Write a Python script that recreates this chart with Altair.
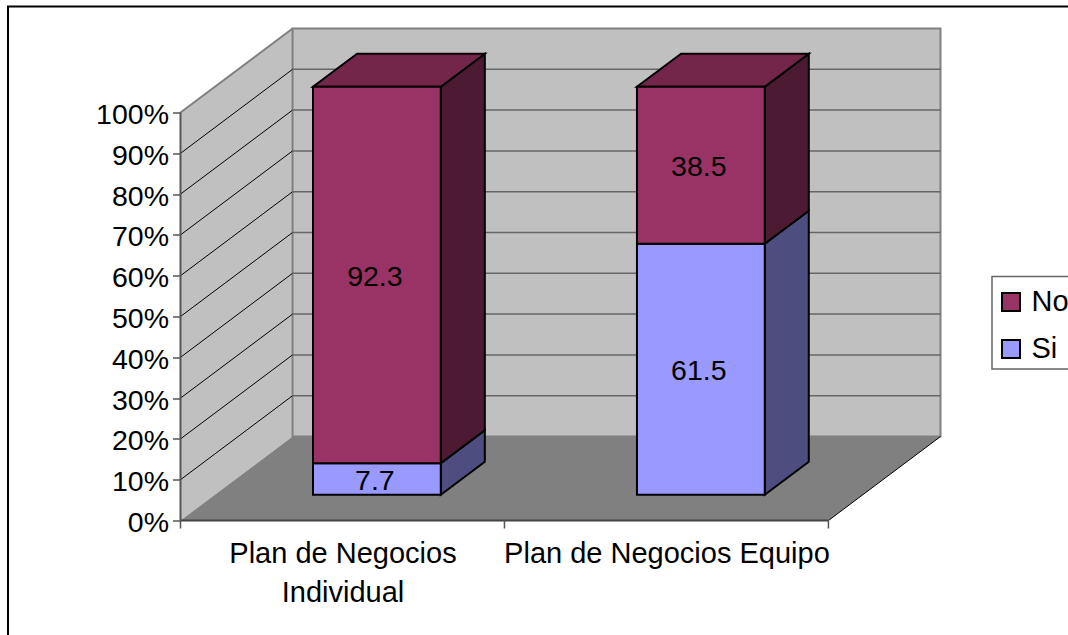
import altair as alt
import pandas as pd

# Share of answers per business-plan type
categories = ["Plan de Negocios Individual", "Plan de Negocios Equipo"]
si_values = [7.7, 61.5]
no_values = [92.3, 38.5]
percent_ticks = list(range(0, 101, 10))

FONT = "Liberation Sans"
FONT_SIZE = 28.5
CATEGORY_FONT_SIZE = 29
EDGE_WIDTH = 2
SERIES_COLORS = {"No": "#993366", "Si": "#9999FF"}
SIDE_COLORS = {"No": "#4D1A33", "Si": "#4D4D80"}
TOP_COLORS = {"No": "#732649", "Si": "#7373BF"}

# Oblique projection: one unit of depth moves a point right and up
DEPTH_X = 112 / 323.75
DEPTH_Y = 84 / 4.08
BAR_WIDTH = 127.7 / 323.75
BAR_DEPTH_NEAR = 0.307
BAR_DEPTH_FAR = 0.70

PLOT_W, PLOT_H = 760, 492
PAD_L, PAD_T = 180.5, 28.5

x_scale = alt.Scale(domain=[0, 2 + DEPTH_X], nice=False, zero=False)
y_scale = alt.Scale(domain=[0, 100 + DEPTH_Y], nice=False, zero=False)

x_axis = alt.Axis(
    values=[0.5, 1.5],
    labelExpr=f"datum.value < 1 ? ['Plan de Negocios', 'Individual'] : '{categories[1]}'",
    domain=False,
    grid=False,
    ticks=False,
    labelFont=FONT,
    labelFontSize=CATEGORY_FONT_SIZE,
    labelColor="#000000",
    labelPadding=18.5,
    labelLineHeight=39,
    labelBaseline="top",
    labelAlign="center",
    labelOverlap=False,
    labelLimit=500,
)
y_axis = alt.Axis(
    values=percent_ticks,
    labelExpr="datum.value + '%'",
    domain=False,
    grid=False,
    tickSize=8,
    tickColor="#555555",
    tickWidth=1.5,
    labelFont=FONT,
    labelFontSize=FONT_SIZE,
    labelColor="#000000",
    labelPadding=4,
    labelOffset=2,
    labelOverlap=False,
)


def X(field):
    return alt.X(field, type="quantitative", scale=x_scale, axis=x_axis, title=None)


def Y(field):
    return alt.Y(field, type="quantitative", scale=y_scale, axis=y_axis, title=None, stack=None)


# Bar faces derived from the stacked values
front, side, top = [], [], []
for i, (si, no) in enumerate(zip(si_values, no_values)):
    left = i + 0.5 - BAR_WIDTH / 2
    right = i + 0.5 + BAR_WIDTH / 2
    near_x = BAR_DEPTH_NEAR * DEPTH_X
    near_y = BAR_DEPTH_NEAR * DEPTH_Y
    for series, low, high in (("Si", 0, si), ("No", si, si + no)):
        key = f"{i}-{series}"
        front.append(dict(series=series, left=left + near_x, right=right + near_x,
                          low=low + near_y, high=high + near_y,
                          mid=(low + high) / 2 + near_y, cx=i + 0.5 + near_x,
                          label=f"{high - low:.1f}"))
        for d in (BAR_DEPTH_NEAR, BAR_DEPTH_FAR):
            side.append(dict(key=key, fill=SIDE_COLORS[series], x=right + d * DEPTH_X,
                             low=low + d * DEPTH_Y, high=high + d * DEPTH_Y))
    for d in (BAR_DEPTH_NEAR, BAR_DEPTH_FAR):
        top.append(dict(key=str(i), fill=TOP_COLORS["No"], y=si + no + d * DEPTH_Y,
                        x=left + d * DEPTH_X, x2=right + d * DEPTH_X))

front_df = pd.DataFrame(front)
side_df = pd.DataFrame(side)
top_df = pd.DataFrame(top)

# Chart box: walls and floor
left_wall = (
    alt.Chart(pd.DataFrame({"x": [0, DEPTH_X], "low": [0, DEPTH_Y], "high": [100, 100 + DEPTH_Y]}))
    .mark_area(color="#C0C0C0")
    .encode(x=X("x"), y=Y("low"), y2="high")
)
back_wall = (
    alt.Chart(pd.DataFrame({"x": [DEPTH_X], "x2": [2 + DEPTH_X], "low": [DEPTH_Y], "high": [100 + DEPTH_Y]}))
    .mark_rect(fill="#C0C0C0", stroke="#808080", strokeWidth=2)
    .encode(x=X("x"), x2="x2", y=Y("low"), y2="high")
)
floor = (
    alt.Chart(pd.DataFrame({"y": [0, DEPTH_Y], "x": [0, DEPTH_X], "x2": [2, 2 + DEPTH_X]}))
    .mark_area(color="#808080", orient="horizontal")
    .encode(y=Y("y"), x=X("x"), x2="x2")
)

left_grid_rows, back_grid_rows = [], []
for p in percent_ticks[1:-1]:
    left_grid_rows += [dict(p=p, x=0, y=p), dict(p=p, x=DEPTH_X, y=p + DEPTH_Y)]
    back_grid_rows += [dict(p=p, x=DEPTH_X, y=p + DEPTH_Y), dict(p=p, x=2 + DEPTH_X, y=p + DEPTH_Y)]

left_grid = (
    alt.Chart(pd.DataFrame(left_grid_rows))
    .mark_line(color="#000000", strokeWidth=1)
    .encode(x=X("x"), y=Y("y"), detail="p:N")
)
back_grid = (
    alt.Chart(pd.DataFrame(back_grid_rows))
    .mark_line(color="#666666", strokeWidth=1.5)
    .encode(x=X("x"), y=Y("y"), detail="p:N")
)
wall_top_edge = (
    alt.Chart(pd.DataFrame({"x": [0, DEPTH_X], "y": [100, 100 + DEPTH_Y]}))
    .mark_line(color="#808080", strokeWidth=2)
    .encode(x=X("x"), y=Y("y"))
)
floor_edge = (
    alt.Chart(pd.DataFrame({"x": [2, 2 + DEPTH_X], "y": [0, DEPTH_Y]}))
    .mark_line(color="#000000", strokeWidth=1)
    .encode(x=X("x"), y=Y("y"))
)

# Axis lines and the category ticks drawn between the names
y_axis_line = (
    alt.Chart(pd.DataFrame({"x": [0], "low": [0], "high": [100]}))
    .mark_rule(color="#555555", strokeWidth=2)
    .encode(x=X("x"), y=Y("low"), y2="high")
)
x_axis_line = (
    alt.Chart(pd.DataFrame({"x": [0], "x2": [2], "y": [0]}))
    .mark_rule(color="#444444", strokeWidth=2)
    .encode(x=X("x"), x2="x2", y=Y("y"))
)
x_ticks = (
    alt.Chart(pd.DataFrame({"x": [0, 1, 2]}))
    .mark_rule(color="#555555", strokeWidth=1.5)
    .encode(x=X("x"), y=alt.value(PLOT_H), y2=alt.value(PLOT_H + 8))
)

# Bar faces
side_faces = (
    alt.Chart(side_df)
    .mark_area(stroke="#000000", strokeWidth=EDGE_WIDTH)
    .encode(x=X("x"), y=Y("low"), y2="high", fill=alt.Fill("fill:N", scale=None), detail="key:N")
)
top_faces = (
    alt.Chart(top_df)
    .mark_area(stroke="#000000", strokeWidth=EDGE_WIDTH, orient="horizontal")
    .encode(y=Y("y"), x=X("x"), x2="x2", fill=alt.Fill("fill:N", scale=None), detail="key:N")
)
front_faces = (
    alt.Chart(front_df)
    .mark_rect(stroke="#000000", strokeWidth=EDGE_WIDTH)
    .encode(
        x=X("left"),
        x2="right",
        y=Y("low"),
        y2="high",
        fill=alt.Fill(
            "series:N",
            scale=alt.Scale(domain=list(SERIES_COLORS), range=list(SERIES_COLORS.values())),
            legend=alt.Legend(
                title=None,
                orient="none",
                legendX=805,
                legendY=248,
                padding=11,
                symbolType="square",
                symbolSize=324,
                symbolStrokeColor="#000000",
                symbolStrokeWidth=2,
                labelFont=FONT,
                labelFontSize=CATEGORY_FONT_SIZE,
                labelColor="#000000",
                labelOffset=6,
                rowPadding=17,
            ),
        ),
    )
)
value_labels = (
    alt.Chart(front_df)
    .mark_text(font=FONT, fontSize=FONT_SIZE, color="#000000", align="center", baseline="middle", dx=-2, dy=1.5)
    .encode(x=X("cx"), y=Y("mid"), text="label:N")
)

# Chart border, cut off by the page on its right and lower sides
frame_left = (
    alt.Chart(pd.DataFrame({"k": [0]}))
    .mark_rule(color="#000000", strokeWidth=2)
    .encode(x=alt.value(8 - PAD_L), y=alt.value(6 - PAD_T), y2=alt.value(700))
)
frame_top = (
    alt.Chart(pd.DataFrame({"k": [0]}))
    .mark_rule(color="#000000", strokeWidth=2)
    .encode(x=alt.value(7 - PAD_L), x2=alt.value(1200), y=alt.value(6.5 - PAD_T))
)

# Box behind the legend entries
legend_box = (
    alt.Chart(pd.DataFrame({"k": [0]}))
    .mark_rect(fill="#FFFFFF", stroke="#666666", strokeWidth=1.5)
    .encode(
        x=alt.value(992 - PAD_L),
        x2=alt.value(1200),
        y=alt.value(276.5 - PAD_T),
        y2=alt.value(369 - PAD_T),
    )
)

chart = (
    alt.layer(
        left_wall, back_wall, floor,
        left_grid, back_grid, wall_top_edge, floor_edge,
        x_axis_line, y_axis_line, x_ticks,
        side_faces, top_faces, front_faces, value_labels,
        frame_left, frame_top, legend_box,
    )
    .properties(
        width=PLOT_W,
        height=PLOT_H,
        autosize=alt.AutoSizeParams(type="none"),
        padding={"left": PAD_L, "top": PAD_T, "right": 1068 - PAD_L - PLOT_W, "bottom": 635 - PAD_T - PLOT_H},
        background="#FFFFFF",
    )
    .configure_view(stroke=None)
)

chart.save("out.html", embed_options={"renderer": "svg", "actions": False})
